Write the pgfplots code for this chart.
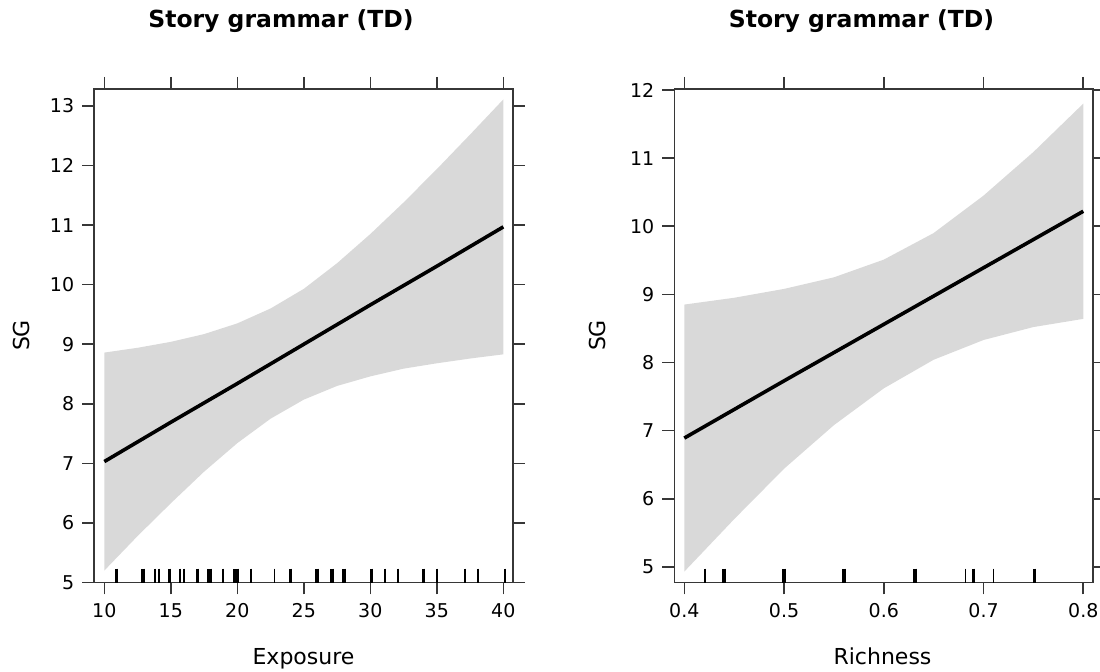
\documentclass[border=0pt]{standalone}
\usepackage{fontspec}
\setmainfont{DejaVu Sans}
\usepackage{pgfplots}
\pgfplotsset{compat=1.18}

\definecolor{bandgray}{RGB}{217,217,217}
\definecolor{framegray}{RGB}{55,55,55}

\pgfplotsset{
  effpanel/.style={
    scale only axis, width=209.3pt, height=246.75pt, anchor=south west,
    axis line style={draw=framegray, line width=0.8pt},
    tick style={draw=framegray, line width=0.8pt},
    major tick length=6pt, tick align=outside,
    minor tick num=0,
    xtick pos=both, ytick pos=both,
    xticklabel pos=lower, yticklabel pos=left,
    ticklabel style={font=\fontsize{9.5}{11}\selectfont, text=black},
    xticklabel style={yshift=-1pt},
    yticklabel style={xshift=-0.5pt},
    /pgf/number format/assume math mode=true,
  },
  rug/.style={only marks, mark=|, mark size=3.5pt, black,
    mark options={line width=#1}},
}

\begin{document}
\begin{tikzpicture}
\path[use as bounding box] (0,0) rectangle (550pt,336pt);

% ---------------- Exposure ----------------
\begin{axis}[effpanel, at={(47.1pt,44.75pt)},
  xmin=9.238, xmax=40.712, ymin=5.0, ymax=13.285,
  xtick={10,15,...,40}, ytick={5,6,...,13}]
  % confidence band
  \addplot[fill=bandgray, draw=none] coordinates {
    (10,8.86) (12.5,8.94) (15,9.04) (17.5,9.17) (20,9.35) (22.5,9.60)
    (25,9.93) (27.5,10.36) (30,10.85) (32.5,11.38) (35,11.94) (37.5,12.52)
    (40,13.11)
    (40,8.83) (37.5,8.76) (35,8.68) (32.5,8.59) (30,8.46) (27.5,8.30)
    (25,8.07) (22.5,7.75) (20,7.34) (17.5,6.86) (15,6.33) (12.5,5.78)
    (10,5.20)};
  % fitted effect
  \addplot[black, line width=1.8pt] coordinates {
    (10,7.03) (15,7.69) (20,8.34) (25,9.00) (30,9.66) (35,10.31) (40,10.97)};
  % rug of observed values
  \addplot[rug=0.9pt] coordinates {
    (13.8,5.117) (14.1,5.117) (15.7,5.117) (16.0,5.117) (18.9,5.117)
    (21.0,5.117) (22.8,5.117) (31.1,5.117) (32.1,5.117) (35.0,5.117)
    (37.1,5.117) (38.1,5.117) (40.1,5.117)};
  \addplot[rug=1.8pt] coordinates {
    (10.9,5.117) (12.9,5.117) (14.9,5.117) (17.0,5.117) (24.0,5.117)
    (26.0,5.117) (27.1,5.117) (28.0,5.117) (30.1,5.117) (34.0,5.117)};
  \addplot[rug=2.6pt] coordinates {(17.9,5.117) (19.9,5.117)};
\end{axis}

% ---------------- Richness ----------------
\begin{axis}[effpanel, at={(337.15pt,44.75pt)},
  xmin=0.38996, xmax=0.80964, ymin=4.77, ymax=12.015,
  xtick={0.4,0.5,0.6,0.7,0.8}, ytick={5,6,...,12},
  xticklabel style={/pgf/number format/.cd, fixed, precision=1, fixed zerofill}]
  \addplot[fill=bandgray, draw=none] coordinates {
    (0.40,8.85) (0.45,8.95) (0.50,9.08) (0.55,9.25) (0.60,9.51)
    (0.65,9.90) (0.70,10.45) (0.75,11.09) (0.80,11.80)
    (0.80,8.64) (0.75,8.52) (0.70,8.33) (0.65,8.04) (0.60,7.62)
    (0.55,7.08) (0.50,6.44) (0.45,5.70) (0.40,4.93)};
  \addplot[black, line width=1.8pt] coordinates {
    (0.40,6.89) (0.50,7.73) (0.60,8.56) (0.70,9.39) (0.80,10.22)};
  \addplot[rug=0.9pt] coordinates {
    (0.421,4.872) (0.682,4.872) (0.710,4.872)};
  \addplot[rug=1.8pt] coordinates {
    (0.440,4.872) (0.500,4.872) (0.560,4.872) (0.631,4.872)
    (0.690,4.872) (0.751,4.872)};
\end{axis}

% titles and axis labels
\node[font=\bfseries\fontsize{11.75}{13}\selectfont, anchor=base] at (140.5pt,322pt) {Story grammar (TD)};
\node[font=\bfseries\fontsize{11.75}{13}\selectfont, anchor=base] at (430.75pt,322pt) {Story grammar (TD)};
\node[font=\fontsize{11}{13}\selectfont, anchor=base] at (151.75pt,3.5pt) {Exposure};
\node[font=\fontsize{11}{13}\selectfont, anchor=base] at (441.25pt,3.5pt) {Richness};
\node[font=\fontsize{11}{13}\selectfont, anchor=base, rotate=90] at (15pt,168.25pt) {SG};
\node[font=\fontsize{11}{13}\selectfont, anchor=base, rotate=90] at (302.5pt,168.25pt) {SG};
\end{tikzpicture}
\end{document}
